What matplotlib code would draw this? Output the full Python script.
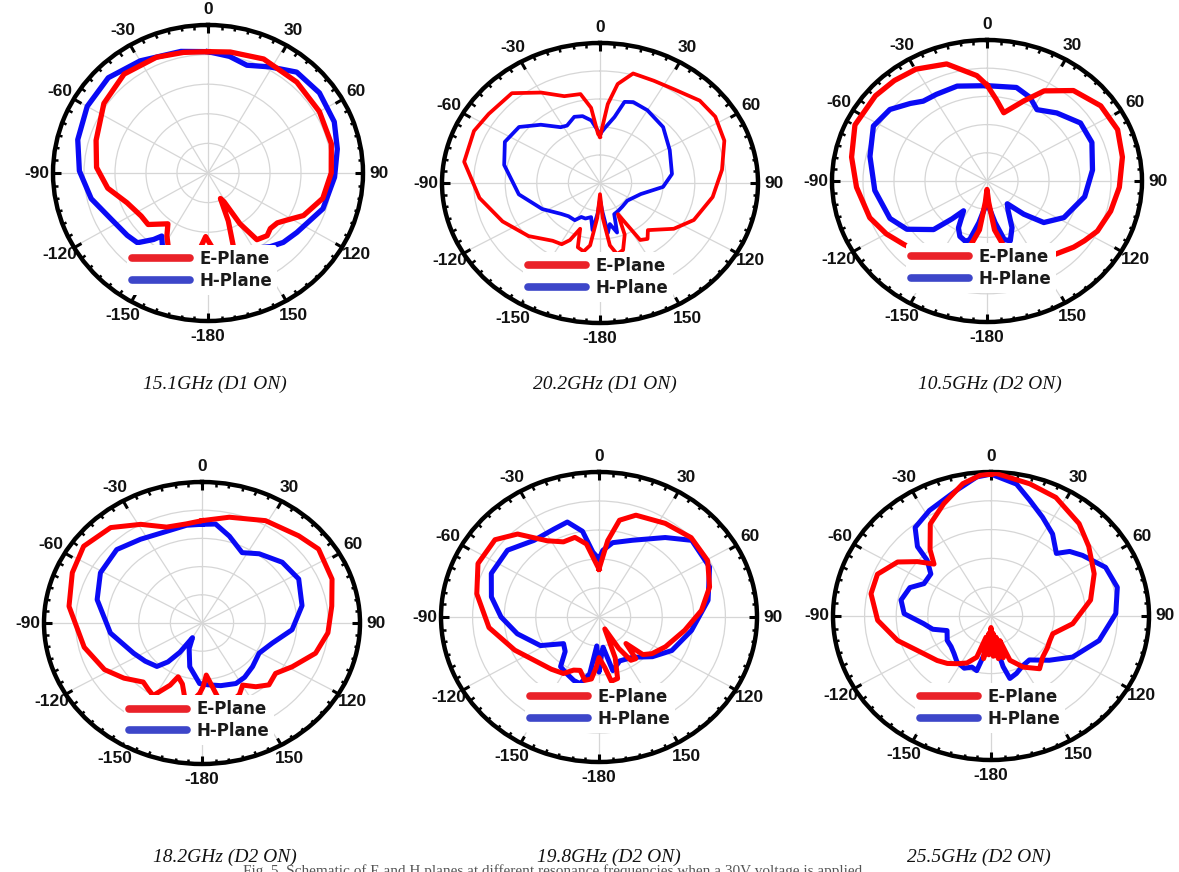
import numpy as np
import matplotlib
matplotlib.use("Agg")
import matplotlib.pyplot as plt
from matplotlib.lines import Line2D

# ---------------- data ----------------
theta_ticks = [0, 30, 60, 90, 120, 150, 180, 210, 240, 270, 300, 330]
theta_labels = ['0', '30', '60', '90', '120', '150', '-180', '-150', '-120', '-90', '-60', '-30']
legend_labels = ['E-Plane', 'H-Plane']
captions = ['15.1GHz (D1 ON)', '20.2GHz (D1 ON)', '10.5GHz (D2 ON)',
            '18.2GHz (D2 ON)', '19.8GHz (D2 ON)', '25.5GHz (D2 ON)']
fig_caption = 'Fig. 5. Schematic of E and H planes at different resonance frequencies when a 30V voltage is applied'

# normalised pattern magnitude (0 = centre, 1 = outer ring) vs angle (deg)
p1_e_ang = [0, 10, 25, 43, 60, 76, 90, 103, 115, 122, 127, 133, 138, 145, 149, 152, 155, 158, 162, 167, 172, 176, 182, 186, 192, 200, 206, 212, 217, 228, 236, 249, 261, 273, 287, 305, 321, 337, 349, 360]
p1_e_mag = [.82, .83, .85, .84, .83, .82, .795, .76, .68, .60, .56, .55, .57, .55, .40, .22, .19, .35, .54, .63, .62, .52, .43, .52, .63, .63, .58, .50, .43, .52, .52, .56, .655, .72, .755, .82, .86, .85, .83, .82]
p1_h_ang = [0, 10, 19, 29, 40, 53, 67, 79, 92, 108, 125, 134, 141, 152, 165, 180, 195, 208, 215, 218, 224, 231, 244, 257, 271, 285, 300, 315, 330, 348, 360]
p1_h_mag = [.82, .80, .77, .82, .89, .90, .885, .85, .817, .78, .70, .675, .64, .58, .62, .58, .62, .62, .52, .57, .655, .67, .70, .773, .83, .87, .90, .91, .875, .84, .82]

p2_e_ang = [0, 5, 9, 15, 25, 35, 47, 57, 69, 83, 98, 114, 125, 138, 143, 148, 153, 157, 163, 168, 172, 176, 180, 184, 188, 192, 197, 201, 205, 209, 216, 230, 246, 262, 280, 295, 305, 319, 330, 340, 349, 354, 358, 360]
p2_e_mag = [.33, .566, .716, .81, .806, .817, .863, .87, .843, .778, .72, .65, .57, .453, .50, .48, .25, .40, .50, .52, .45, .25, .08, .25, .45, .50, .48, .35, .45, .50, .51, .59, .675, .77, .873, .88, .86, .85, .746, .66, .647, .54, .35, .33]
p2_h_ang = [0, 5, 11, 15, 20, 30, 45, 62, 82, 94, 107, 126, 140, 150, 158, 163, 168, 172, 176, 180, 184, 188, 193, 200, 206, 211, 220, 228, 243, 261, 282, 296, 308, 318, 328, 333, 341, 347, 353, 360]
p2_h_mag = [.35, .40, .48, .60, .615, .60, .565, .50, .46, .40, .27, .214, .22, .23, .24, .37, .30, .36, .20, .12, .22, .34, .25, .27, .27, .31, .31, .33, .41, .52, .62, .67, .65, .56, .47, .46, .50, .49, .45, .35]

p3_e_ang = [0, 6, 12.6, 22.7, 30, 41, 54, 66.6, 79, 93, 105, 116.5, 124, 130, 140, 150, 160, 166, 172, 176, 180, 184, 188, 194, 205, 218, 230, 240, 251, 267, 281, 295, 310, 320, 330, 342.6, 355, 360]
p3_e_mag = [.68, .58, .496, .616, .738, .85, .907, .918, .89, .855, .826, .796, .758, .73, .68, .65, .60, .50, .35, .15, .06, .15, .35, .50, .60, .66, .70, .75, .80, .843, .89, .94, .94, .93, .916, .87, .75, .68]
p3_h_ang = [0, 16, 25, 32.5, 43, 55.7, 68, 83.5, 100, 117.6, 128.8, 134.8, 141, 147, 154, 160.5, 165, 170, 175, 180, 185, 190, 195, 198, 204, 209, 215.6, 220, 225, 236.5, 247, 264.7, 283, 298, 309, 318, 324, 332, 344, 360]
p3_h_mag = [.676, .69, .655, .60, .66, .73, .73, .685, .64, .56, .47, .334, .208, .25, .368, .45, .43, .30, .20, .15, .20, .30, .43, .45, .43, .38, .26, .35, .487, .62, .68, .727, .775, .83, .806, .74, .70, .696, .70, .676]

p4_e_ang = [0, 13, 29, 44.7, 54.6, 69.3, 81.7, 95, 106.6, 118.5, 127.5, 136, 143, 149.7, 155, 160, 168.6, 172, 175.8, 179, 181.7, 185.9, 191.3, 196, 201.6, 204.6, 211, 216, 221.6, 231.6, 241.8, 257, 278, 293.5, 306, 319.5, 331, 341.8, 352, 360]
p4_e_mag = [.726, .77, .83, .87, .905, .88, .83, .80, .75, .65, .587, .61, .566, .51, .56, .58, .56, .45, .37, .45, .50, .55, .55, .45, .41, .485, .60, .58, .56, .63, .70, .765, .85, .895, .926, .89, .80, .716, .71, .726]
p4_h_ang = [0, 7, 15.7, 27, 36.4, 49.7, 63, 79, 94.8, 107.8, 120.6, 134, 145, 153.4, 165, 175, 182, 194, 204, 210, 214, 218, 222.8, 233, 243.7, 263, 284, 299, 314, 326.8, 339, 352, 360]
p4_h_mag = [.70, .707, .64, .56, .61, .666, .687, .645, .572, .467, .42, .445, .47, .48, .46, .44, .43, .32, .20, .12, .25, .35, .42, .45, .483, .584, .684, .735, .75, .71, .688, .70, .70]

p5_e_ang = [0, 6, 11, 18.4, 33, 46.8, 60.5, 73.5, 86, 99.6, 116, 127, 133, 137, 141, 146, 150, 156, 160, 164.5, 170, 174, 180, 183, 186.4, 191.6, 198, 203.7, 210, 220, 229, 246.8, 264, 281.7, 295.7, 309, 318, 328, 336.5, 344.5, 351, 356, 360]
p5_e_mag = [.33, .53, .68, .74, .77, .80, .79, .73, .65, .55, .468, .42, .38, .25, .37, .36, .25, .09, .30, .44, .45, .35, .28, .35, .43, .446, .387, .40, .45, .47, .49, .58, .70, .79, .85, .847, .77, .62, .565, .57, .51, .39, .33]
p5_h_ang = [0, 3, 9.6, 21.8, 37.4, 48, 63.8, 80.5, 99, 116.6, 129, 142.5, 156.6, 166.7, 173, 176, 180, 184, 188.5, 194.6, 200, 208, 215.4, 222, 230.7, 242, 257.4, 270, 281.5, 293.8, 308.5, 322, 334.8, 343, 350, 355, 360]
p5_h_mag = [.40, .46, .52, .57, .69, .79, .78, .70, .593, .516, .435, .35, .33, .38, .21, .25, .38, .20, .395, .475, .466, .44, .42, .32, .29, .42, .53, .62, .695, .745, .74, .67, .67, .685, .60, .45, .40]

p6_e_ang = [0, 2, 15, 26.5, 41, 52, 65.8, 80, 95.9, 107.5, 114.6, 122, 131, 140, 150, 158.7, 161.8, 165, 168, 171, 174, 177, 180, 183, 186, 189, 192, 197.5, 205, 213, 220, 227.8, 238.5, 253.9, 267.6, 281.5, 292, 302.4, 309, 315, 320, 329, 339, 349, 356, 360]
p6_e_mag = [.985, .99, .95, .92, .85, .785, .716, .64, .52, .41, .41, .42, .434, .478, .41, .33, .18, .30, .15, .30, .12, .28, .08, .27, .12, .30, .15, .30, .36, .395, .43, .46, .50, .615, .718, .775, .775, .70, .60, .51, .60, .746, .835, .936, .98, .985]
p6_h_ang = [0, 10, 17, 25.4, 34.4, 43.6, 48, 54, 65, 76, 88.8, 104, 118.9, 129.8, 141.5, 150, 158, 164.6, 167.7, 172, 180, 188, 193.4, 198.8, 205, 214, 222, 230, 238.5, 250, 256, 262.9, 271.7, 281, 291, 297.9, 307.5, 313.8, 316, 322, 332, 346, 354.7, 360]
p6_h_mag = [.985, .93, .84, .76, .69, .60, .67, .716, .80, .824, .79, .705, .59, .48, .39, .40, .43, .45, .36, .20, .15, .25, .39, .375, .40, .385, .35, .33, .325, .296, .38, .43, .55, .58, .55, .48, .48, .56, .67, .78, .83, .90, .97, .985]

# ---------------- layout (pixels) ----------------
W, H = 1179, 872
panels = [
    dict(c=(208, 173), r=(155, 148), e=(p1_e_ang, p1_e_mag), h=(p1_h_ang, p1_h_mag), leg=(202, 270), lw=3.8),
    dict(c=(600, 183), r=(158, 140), e=(p2_e_ang, p2_e_mag), h=(p2_h_ang, p2_h_mag), leg=(598, 277), lw=2.7),
    dict(c=(987, 181), r=(155, 141), e=(p3_e_ang, p3_e_mag), h=(p3_h_ang, p3_h_mag), leg=(981, 268), lw=3.8),
    dict(c=(202, 623), r=(158, 141), e=(p4_e_ang, p4_e_mag), h=(p4_h_ang, p4_h_mag), leg=(199, 720), lw=3.6),
    dict(c=(599, 617), r=(158, 145), e=(p5_e_ang, p5_e_mag), h=(p5_h_ang, p5_h_mag), leg=(600, 708), lw=3.6),
    dict(c=(991, 616), r=(158, 144), e=(p6_e_ang, p6_e_mag), h=(p6_h_ang, p6_h_mag), leg=(990, 708), lw=3.6),
]
caption_pos = [(215, 384), (605, 384), (990, 384), (225, 857), (609, 857), (979, 857)]

fig = plt.figure(figsize=(W / 100, H / 100), dpi=100)
fig.patch.set_facecolor('white')

red, blue = '#ff0000', '#0a0af5'
leg_red, leg_blue = '#ea2229', '#3d46c9'

for i, p in enumerate(panels):
    cx, cy = p['c']
    rx, ry = p['r']
    ax = fig.add_axes([(cx - rx) / W, (H - cy - ry) / H, 2 * rx / W, 2 * ry / H],
                      projection='polar')
    ax.set_aspect('auto')
    ax.set_theta_zero_location('N')
    ax.set_theta_direction(-1)
    ax.set_ylim(0, 1)
    ax.set_yticks([0.2, 0.4, 0.6, 0.8])
    ax.set_yticklabels([])
    ax.set_thetagrids(theta_ticks, labels=theta_labels,
                      fontsize=12.5, fontweight='bold', family='Liberation Sans', color='#111111')
    ax.set_xticks(np.deg2rad(np.arange(0, 360, 5)), minor=True)
    ax.tick_params(axis='x', which='both', top=True, bottom=False)
    ax.tick_params(axis='x', which='major', direction='in', length=6, width=2.2,
                   color='black', pad=4.5)
    ax.tick_params(axis='x', which='minor', direction='in', length=3.2, width=1.8,
                   color='black')
    ax.grid(True, color='#d6d6d6', lw=0.9)
    ax.spines['polar'].set_linewidth(3.2)
    ax.spines['polar'].set_color('black')

    ha, hm = p['h']
    ea, em = p['e']
    ax.plot(np.deg2rad(ha), hm, color=blue, lw=p['lw'], solid_joinstyle='round', zorder=3)
    ax.plot(np.deg2rad(ea), em, color=red, lw=p['lw'], solid_joinstyle='round', zorder=4)

    handles = [Line2D([0], [0], color=leg_red, lw=5.5, solid_capstyle='round'),
               Line2D([0], [0], color=leg_blue, lw=5.5, solid_capstyle='round')]
    lx, ly = p['leg']
    leg = ax.legend(handles, legend_labels, loc='center',
                    bbox_to_anchor=(lx / W, 1 - ly / H), bbox_transform=fig.transFigure,
                    frameon=True, framealpha=1, facecolor='white', edgecolor='none',
                    handlelength=3.5, handletextpad=0.55, labelspacing=0.2,
                    borderpad=0.3, borderaxespad=0,
                    prop=dict(family='DejaVu Sans', weight='bold', size=12))
    leg.set_zorder(10)
    for t in leg.get_texts():
        t.set_color('#1a1a1a')

for (x, y), txt in zip(caption_pos, captions):
    fig.text(x / W, 1 - y / H, txt, ha='center', va='center', fontsize=14,
             family='Liberation Serif', style='italic', color='#111111')

fig.text(243 / W, 1 - 875 / H, fig_caption, ha='left', va='baseline', fontsize=11,
         family='Liberation Serif', color='#555555')

fig.savefig('out.png', dpi=100, facecolor='white')
